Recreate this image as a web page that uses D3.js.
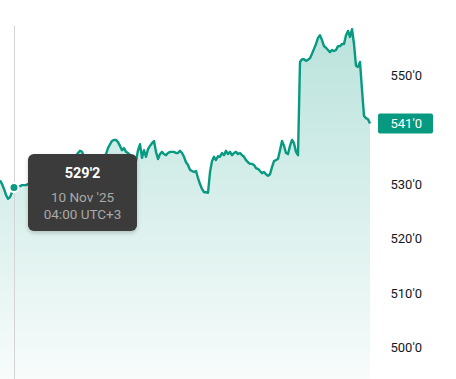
<!DOCTYPE html>
<html>
<head>
<meta charset="utf-8">
<script src="https://cdn.jsdelivr.net/npm/d3@7"></script>
<style>
  html, body { margin: 0; padding: 0; background: #fff; }
  svg { display: block; }
  text { font-family: Roboto, "Noto Sans", sans-serif; }
</style>
</head>
<body>
<svg id="chart" width="456" height="379"></svg>
<script>
// ---- data ----
const prices = [
  530.6, 529.9, 529.0, 527.9, 527.2, 527.5, 528.4, 529.25, 529.4, 529.5,
  529.5, 529.7, 529.7, 529.7, 529.9, 530.1, 530.6, 531.4, 532.1, 532.5,
  532.8, 532.3, 533.0, 533.6, 533.2, 533.9, 534.3, 533.8, 533.4, 534.1,
  534.7, 534.3, 533.8, 533.2, 533.9, 534.3, 533.9, 534.7, 535.0, 535.6,
  536.0, 535.8, 535.0, 534.5, 534.1, 533.8, 534.3, 533.9, 533.4, 533.8,
  534.3, 534.7, 535.0, 535.4, 536.5, 537.2, 537.8, 538.0, 538.0, 537.6,
  536.9, 536.1, 536.5, 535.8, 535.6, 535.2, 534.9, 534.5, 534.1, 536.1,
  537.2, 534.7, 536.1, 534.9, 536.3, 536.9, 537.4, 537.8, 535.8, 534.5,
  535.4, 535.8, 535.4, 535.2, 535.6, 535.8, 535.8, 535.8, 535.6, 535.6,
  536.0, 535.6, 534.9, 533.9, 533.4, 532.5, 532.3, 532.1, 532.3, 531.0,
  529.9, 529.0, 528.4, 528.4, 528.3, 532.1, 534.1, 534.9, 534.3, 535.0,
  534.9, 535.6, 535.2, 536.0, 535.4, 535.8, 535.2, 535.6, 535.8, 535.4,
  535.6, 535.2, 534.9, 534.3, 533.9, 533.6, 533.6, 533.4, 532.8, 532.7,
  532.3, 531.9, 532.1, 531.7, 531.4, 531.7, 533.0, 534.1, 534.3, 534.5,
  536.1, 537.8, 536.9, 535.6, 535.4, 536.9, 538.0, 537.4, 535.8, 535.2,
  552.3, 552.8, 552.8, 552.5, 552.7, 553.0, 553.8, 554.7, 555.6, 556.7,
  557.2, 556.3, 555.2, 554.9, 554.5, 554.1, 554.5, 554.3, 554.5, 555.2,
  555.2, 555.6, 555.6, 557.2, 558.0, 556.9, 558.3, 555.6, 551.6, 551.4,
  552.3, 547.2, 542.4, 542.0, 541.8, 541.0
];
const yTicks = [500, 510, 520, 530, 540, 550];
const yTickLabels = ["500'0", "510'0", "520'0", "530'0", "540'0", "550'0"];
const hoverIndex = 7;
const hoverDate = "10 Nov '25";
const hoverTime = "04:00 UTC+3";
const lastPrice = 541.0;

// ---- helpers ----
function fmt(v) {
  const whole = Math.floor(v + 1e-9);
  const eighths = Math.round((v - whole) * 8);
  return whole + "'" + eighths;
}

const svg = d3.select("#chart");
const W = 456, H = 379;
const green = "#089981";

const x = d3.scaleLinear().domain([0, prices.length - 1]).range([0, 370]);
const y = d3.scaleLinear().domain([500, 550]).range([347, 74.5]);

const defs = svg.append("defs");
const grad = defs.append("linearGradient")
  .attr("id", "areaGrad").attr("gradientUnits", "userSpaceOnUse")
  .attr("x1", 0).attr("x2", 0).attr("y1", 28).attr("y2", H);
grad.append("stop").attr("offset", 0).attr("stop-color", green).attr("stop-opacity", 0.28);
grad.append("stop").attr("offset", 1).attr("stop-color", green).attr("stop-opacity", 0.03);

const shadow = defs.append("filter").attr("id", "shadow")
  .attr("x", "-20%").attr("y", "-20%").attr("width", "140%").attr("height", "150%");
shadow.append("feDropShadow").attr("dx", 0).attr("dy", 2).attr("stdDeviation", 2)
  .attr("flood-color", "#000").attr("flood-opacity", 0.2);

// area
const area = d3.area()
  .x((d, i) => x(i)).y0(H).y1(d => y(d));
svg.append("path").datum(prices)
  .attr("d", area).attr("fill", "url(#areaGrad)");

// line
const line = d3.line().x((d, i) => x(i)).y(d => y(d));
svg.append("path").datum(prices)
  .attr("d", line).attr("fill", "none")
  .attr("stroke", green).attr("stroke-width", 2.4)
  .attr("stroke-linejoin", "round");

// crosshair
const hx = Math.round(x(hoverIndex)) + 0.5;
svg.append("line")
  .attr("x1", hx).attr("x2", hx).attr("y1", 26).attr("y2", H)
  .attr("stroke", "#d4d4d4").attr("stroke-width", 1);

// hover point
svg.append("circle")
  .attr("cx", x(hoverIndex)).attr("cy", y(prices[hoverIndex]))
  .attr("r", 4.5).attr("fill", green)
  .attr("stroke", "#fff").attr("stroke-width", 2);

// tooltip
const tip = svg.append("g").attr("transform", "translate(28,154)");
tip.append("rect")
  .attr("width", 109).attr("height", 77).attr("rx", 6)
  .attr("fill", "#3a3a3a").attr("filter", "url(#shadow)");
tip.append("text").attr("x", 54.5).attr("y", 24).attr("text-anchor", "middle")
  .attr("fill", "#fff").attr("font-weight", "bold").attr("font-size", 14.5)
  .text(fmt(prices[hoverIndex]));
tip.append("text").attr("x", 54.5).attr("y", 47.5).attr("text-anchor", "middle")
  .attr("fill", "#a9a9a9").attr("font-size", 13.5)
  .text(hoverDate);
tip.append("text").attr("x", 54.5).attr("y", 65).attr("text-anchor", "middle")
  .attr("fill", "#a9a9a9").attr("font-size", 13.5)
  .text(hoverTime);

// y axis (right)
const axis = d3.axisRight(y).tickValues(yTicks)
  .tickFormat((d, i) => yTickLabels[i]).tickSize(0).tickPadding(0);
const ag = svg.append("g").attr("transform", "translate(390.5,0)").call(axis);
ag.select(".domain").remove();
ag.selectAll("text")
  .attr("font-family", "Roboto, 'Noto Sans', sans-serif")
  .attr("font-size", 13).attr("fill", "#131722")
  .attr("x", 0).attr("dy", "0.36em");
// hide the tick label that is covered by the last-price badge
ag.selectAll(".tick").filter(d => Math.abs(y(d) - y(lastPrice)) < 14).remove();

// last price badge
const ly = y(lastPrice);
svg.append("rect")
  .attr("x", 378).attr("y", ly - 10).attr("width", 55).attr("height", 20)
  .attr("rx", 2).attr("fill", green);
svg.append("text")
  .attr("x", 390.5).attr("y", ly).attr("dy", "0.36em")
  .attr("fill", "#fff").attr("font-size", 13)
  .text(fmt(lastPrice));
</script>
</body>
</html>
